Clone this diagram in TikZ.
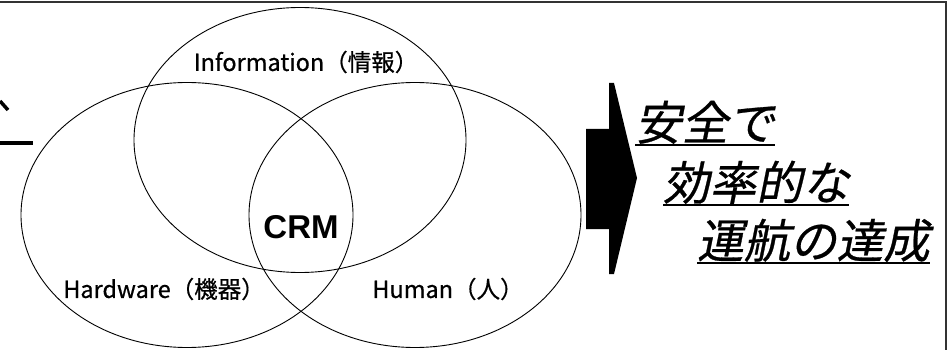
\documentclass[tikz,border=0pt]{standalone}
\usepackage{fontspec}
\usetikzlibrary{shapes.geometric,calc}
\newfontfamily\jpfont{Noto Sans CJK JP}[FakeBold=0.6]
\newfontfamily\jpslant{Noto Sans CJK JP}[FakeSlant=0.2,FakeBold=0.6]
\newfontfamily\crmfont{Liberation Sans}

\tikzset{
  venn/.style={draw, ellipse, line width=0.9pt, minimum width=332pt, minimum height=265pt, inner sep=0pt},
  setlabel/.style={font=\jpfont\fontsize{23.5}{26}\selectfont, inner sep=0pt},
  corelabel/.style={font=\crmfont\bfseries\fontsize{33}{36}\selectfont, inner sep=0pt},
  goal/.style={font=\jpslant\fontsize{46.5}{50}\selectfont, inner sep=0pt, anchor=base west},
  goalline/.style={line width=2pt},
  framestroke/.style={line width=2pt, black!80},
  fragment/.style={line width=4pt}
}

\begin{document}
\begin{tikzpicture}[x=1pt, y=-1pt]
\useasboundingbox (0,0) rectangle (951,350);
\fill[white] (0,0) rectangle (951,350);

% slide frame (top and right edges)
\draw[framestroke] (0,2) -- (946,2) -- (946,350);

% trailing strokes of the cut-off heading
\draw[fragment, line width=3.5pt] (0,101) -- (8,110);
\draw[fragment] (0,142.7) -- (33,142.7);

% the three sets
\node[venn] (info) at (300,140) {};
\node[venn] (hard) at (187,215) {};
\node[venn] (human) at (415,215) {};

% set names and the common core
\node[setlabel] (infoname) at (306,62) {Information（情報）};
\node[setlabel] (hardname) at (164,289) {Hardware（機器）};
\node[setlabel] (humanname) at (448,289) {Human（人）};
\node[corelabel] (crm) at (301,227) {CRM};

% block arrow toward the result
\fill (586,129) -- (609,129) -- (609,83) -- (614,83) -- (637,178)
      -- (614,274) -- (609,274) -- (609,229) -- (586,229) -- cycle;

% result, three underlined lines
\node[goal] (g1) at (635,140) {安全で};
\node[goal] (g2) at (663,200) {効率的な};
\node[goal] (g3) at (697,258) {運航の達成};
\foreach \g in {g1,g2,g3}
  \draw[goalline] ($(\g.base west)+(0,5)$) -- ($(\g.base east)+(0,5)$);
\end{tikzpicture}
\end{document}
